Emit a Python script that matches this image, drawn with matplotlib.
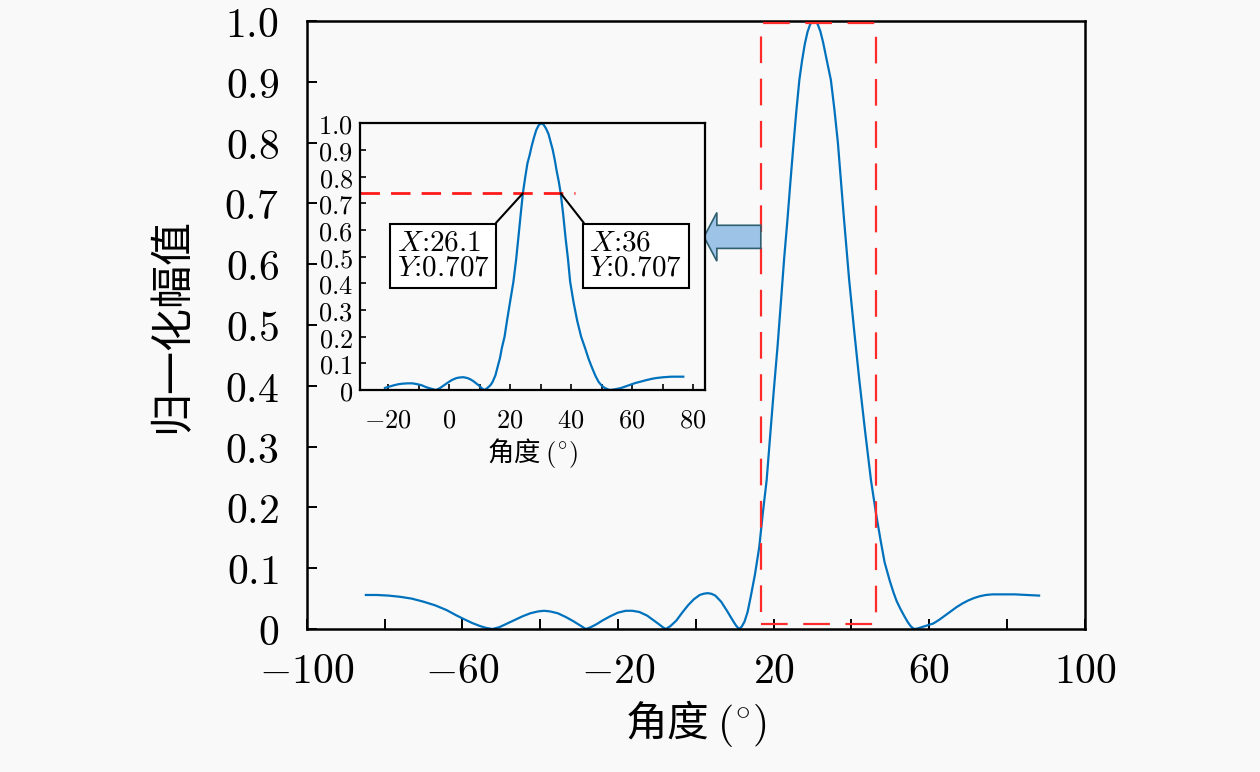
import numpy as np
import matplotlib
matplotlib.use("Agg")
import matplotlib.pyplot as plt
from matplotlib.patches import Rectangle, FancyArrow
from matplotlib.ticker import FixedLocator, FuncFormatter

plt.rcParams['mathtext.fontset'] = 'cm'
plt.rcParams['font.family'] = ['Noto Sans CJK SC', 'DejaVu Sans']

# main beam pattern
main_x = [-84.8, -82, -79, -76, -73, -70, -67, -64, -61.7, -59.5, -57.5, -55.5, -54, -52.3,
          -50.5, -48.5, -46.5, -44.5, -42.5, -40.5, -39, -37.5, -35.5, -33.5, -31.5, -30, -29, -28.3,
          -27, -25.5, -24, -22, -20, -18, -16.3, -14.5, -12.5, -11, -9.5, -8.5, -7.7,
          -6.5, -5, -3.5, -2, -0.5, 1, 2, 3, 4, 5, 6.5, 8, 9.5, 10.3, 11.1,
          11.8, 12.5, 13.3, 14.1, 15.2, 16.3, 17.2, 18.2, 19, 20, 21, 21.9, 22.7, 23.5, 24.3,
          25, 25.8, 26.6, 27.3, 28, 28.7, 29.4, 30.4, 31.3, 32, 32.7, 33.5, 34.7, 35.6, 36.5,
          38.0, 39.4, 40.7, 42.0, 43.5, 45.0, 46.3, 47.5, 48.5, 49.8, 50.8, 51.6, 52.5, 53.5,
          54.5, 55.3, 56.1,
          57, 58, 59.5, 61, 62.5, 64, 65.5, 67, 68.5, 70, 71.5, 73, 74.5, 76.2, 79, 82, 85, 88.2]
main_y = [0.056, 0.056, 0.055, 0.053, 0.050, 0.045, 0.039, 0.031, 0.023, 0.016, 0.010, 0.005, 0.002, 0.0,
          0.003, 0.009, 0.015, 0.021, 0.026, 0.029, 0.030, 0.029, 0.026, 0.020, 0.013, 0.007, 0.003, 0.0,
          0.003, 0.008, 0.014, 0.021, 0.027, 0.030, 0.030, 0.028, 0.022, 0.015, 0.008, 0.003, 0.0,
          0.005, 0.014, 0.027, 0.039, 0.049, 0.056, 0.058, 0.059, 0.058, 0.055, 0.045, 0.030, 0.014, 0.006, 0.0,
          0.004, 0.012, 0.028, 0.053, 0.090, 0.135, 0.190, 0.245, 0.310, 0.390, 0.465, 0.541, 0.610, 0.670, 0.735,
          0.790, 0.850, 0.903, 0.935, 0.962, 0.982, 0.995, 1.0, 0.995, 0.983, 0.965, 0.940, 0.903, 0.855, 0.800,
          0.680, 0.574, 0.490, 0.410, 0.325, 0.245, 0.190, 0.145, 0.110, 0.080, 0.060, 0.046, 0.034, 0.022,
          0.011, 0.004, 0.0,
          0.001, 0.003, 0.006, 0.009, 0.015, 0.022, 0.029, 0.036, 0.042, 0.047, 0.051, 0.054, 0.056, 0.057,
          0.057, 0.057, 0.056, 0.055]

# zoomed pattern shown in the inset
inset_x = [-21, -19.5, -18, -16.5, -15, -13.5, -12, -10.5, -9, -7.8, -6.5, -5.3, -4.3,
           -3, -2, -0.5, 1, 2.5, 3.5, 4.7, 6, 7, 8, 9, 10, 10.8, 11.5,
           12.3, 13, 13.7, 14.3, 15.2, 16, 16.7, 17.3, 18.2, 19, 20, 21.1, 22, 22.8, 23.5, 24.2,
           25, 25.7, 26.4, 27.1, 27.8, 28.6, 29.4, 30.2, 31, 31.8, 32.6, 33.3, 34.0, 34.7, 35.3,
           36, 36.6, 37.4, 38.2, 39, 39.7, 40.8, 42, 43.3, 44.6, 45.8, 47, 48, 49, 50, 51, 52, 52.8,
           54, 55, 56.5, 58, 59.5, 61, 63, 64.8, 66.5, 68, 70.3, 73, 75, 76.8]
inset_y = [0.008, 0.013, 0.018, 0.022, 0.024, 0.025, 0.025, 0.022, 0.018, 0.012, 0.007, 0.003, 0.0,
           0.007, 0.015, 0.027, 0.038, 0.045, 0.047, 0.048, 0.045, 0.040, 0.033, 0.024, 0.015, 0.006, 0.0,
           0.005, 0.012, 0.020, 0.031, 0.055, 0.090, 0.120, 0.157, 0.200, 0.260, 0.330, 0.406, 0.490,
           0.580, 0.660, 0.7375,
           0.800, 0.850, 0.880, 0.915, 0.945, 0.975, 0.993, 1.0, 0.995, 0.980, 0.960, 0.930, 0.900,
           0.860, 0.820,
           0.780, 0.7375, 0.660, 0.570, 0.490, 0.406, 0.330, 0.260, 0.200, 0.157, 0.115, 0.080, 0.053,
           0.031, 0.017, 0.008, 0.003, 0.0,
           0.002, 0.004, 0.008, 0.014, 0.020, 0.026, 0.032, 0.0375, 0.042, 0.045, 0.048, 0.050, 0.050, 0.050]

cross_x = [24.2, 36.6]
cross_y = 0.7375
cross_labels = ['26.1', '36']
cross_val = '0.707'

main_xticks = list(range(-100, 101, 20))
main_xlabels = [-100, -60, -20, 20, 60, 100]
main_yticks = [round(0.1 * i, 1) for i in range(11)]
inset_xticks = list(range(-20, 81, 10))
inset_xlabels = [-20, 0, 20, 40, 60, 80]

blue = '#0072BD'

fig = plt.figure(figsize=(12.6, 7.72), dpi=100)
fig.patch.set_facecolor('#f9f9f9')

ax = fig.add_axes([0.2434, 0.1852, 0.6177, 0.7876])
ax.set_facecolor('#f9f9f9')
ax.plot(main_x, main_y, color=blue, lw=1.6)
ax.set_xlim(-100, 100)
ax.set_ylim(0, 1)


def yfmt(v, _):
    return '$0$' if abs(v) < 1e-9 else '$%.1f$' % v


ax.xaxis.set_major_locator(FixedLocator(main_xticks))
ax.xaxis.set_major_formatter(FuncFormatter(
    lambda v, _: ('$%d$' % v) if int(round(v)) in main_xlabels else ''))
ax.yaxis.set_major_locator(FixedLocator(main_yticks))
ax.yaxis.set_major_formatter(FuncFormatter(yfmt))
ax.tick_params(direction='in', length=7, width=1.4, labelsize=30)
ax.tick_params(axis='y', pad=20)
ax.tick_params(axis='x', pad=16)
for s in ax.spines.values():
    s.set_linewidth(1.8)
ax.set_xlabel('角度 $(^{\\circ})$', fontsize=30, labelpad=4)
ax.set_ylabel('归一化幅值', fontsize=31, labelpad=22)

# red dashed zoom window
ax.add_patch(Rectangle((16.7, 0.008), 29.6, 0.988, fill=False, edgecolor='#ff2b2b',
                       lw=1.6, linestyle=(0, (12, 7)), zorder=3))
# block arrow pointing at the inset
ax.add_patch(FancyArrow(16.7, 0.645, -14.6, 0, width=0.038, head_width=0.080,
                        head_length=3.3, length_includes_head=True,
                        facecolor='#9dc3e6', edgecolor='#2f5f6f', lw=1.2, zorder=4))

# inset
ai = fig.add_axes([0.2857, 0.4948, 0.2738, 0.3455])
ai.set_facecolor('#f9f9f9')
ai.plot(inset_x, inset_y, color=blue, lw=1.6)
ai.set_xlim(-29.2, 83.9)
ai.set_ylim(0, 1)
ai.axhline(cross_y, xmin=0, xmax=(41.3 + 29.2) / (83.9 + 29.2), color='#ff1a1a', lw=2,
           linestyle=(0, (7, 4)))
ai.xaxis.set_major_locator(FixedLocator(inset_xticks))
ai.xaxis.set_major_formatter(FuncFormatter(
    lambda v, _: ('$%d$' % v) if int(round(v)) in inset_xlabels else ''))
ai.yaxis.set_major_locator(FixedLocator(main_yticks))
ai.yaxis.set_major_formatter(FuncFormatter(yfmt))
ai.tick_params(direction='in', length=4, width=1.2, labelsize=19)
ai.tick_params(axis='y', pad=5)
ai.tick_params(axis='x', pad=12)
for s in ai.spines.values():
    s.set_linewidth(1.6)
ai.set_xlabel('角度 $(^{\\circ})$', fontsize=19, labelpad=2)

box_pos = [(-17.2, 0.60), (46.0, 0.60)]
rel = [(1, 1), (0, 1)]
for cx, lab, (tx, ty), rp in zip(cross_x, cross_labels, box_pos, rel):
    ai.annotate('$X$:%s\n$Y$:%s' % (lab, cross_val), xy=(cx, cross_y), xytext=(tx, ty),
                textcoords='data', ha='left', va='top', fontsize=21, family='cmr10',
                linespacing=0.95,
                bbox=dict(boxstyle='square,pad=0.22', facecolor='white', edgecolor='black', lw=1.5),
                arrowprops=dict(arrowstyle='-', color='black', lw=1.5, relpos=rp,
                                shrinkA=0, shrinkB=0))

fig.savefig('out.png', dpi=100, facecolor=fig.get_facecolor())
